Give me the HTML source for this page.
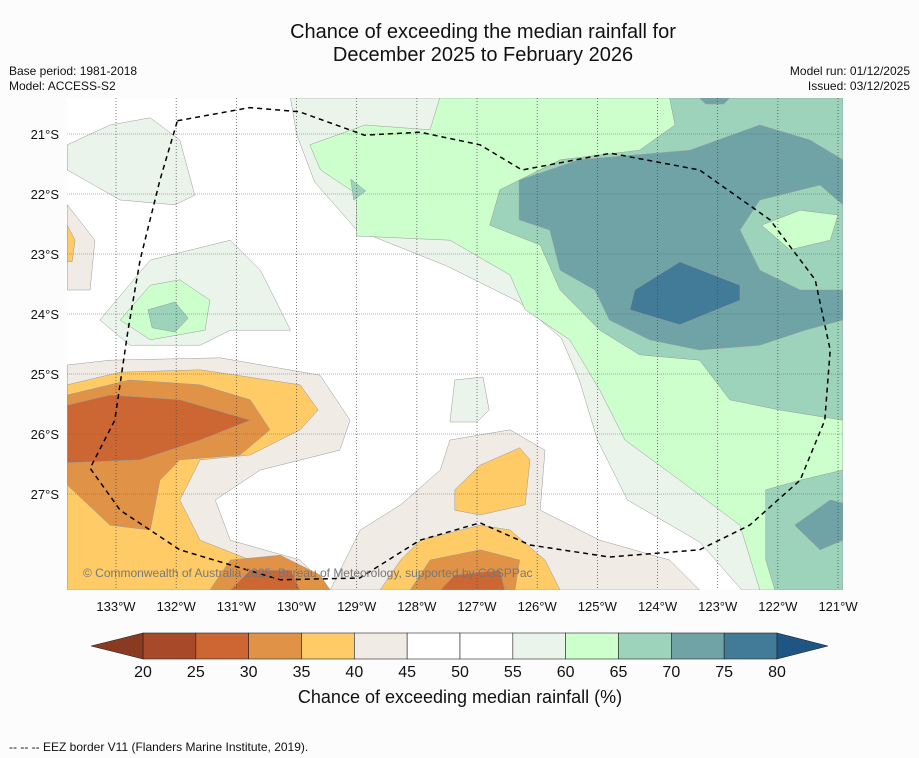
<!DOCTYPE html>
<html><head><meta charset="utf-8"><style>
body{margin:0;background:#fcfcfc;font-family:"Liberation Sans",sans-serif;}
svg{display:block}
</style></head><body>
<svg id="chart" width="919" height="758" viewBox="0 0 919 758">
<rect width="919" height="758" fill="#fcfcfc"/>
<text x="483" y="38" font-size="20" text-anchor="middle" fill="#111">Chance of exceeding the median rainfall for</text>
<text x="483" y="61" font-size="20" text-anchor="middle" fill="#111">December 2025 to February 2026</text>
<text x="9" y="75" font-size="12" fill="#111">Base period: 1981-2018</text>
<text x="9" y="90" font-size="12" fill="#111">Model: ACCESS-S2</text>
<text x="910" y="75" font-size="12" text-anchor="end" fill="#111">Model run: 01/12/2025</text>
<text x="910" y="90" font-size="12" text-anchor="end" fill="#111">Issued: 03/12/2025</text>
<defs><clipPath id="mapclip"><rect x="67" y="98" width="776" height="492"/></clipPath></defs>
<g id="map" clip-path="url(#mapclip)"><rect x="67" y="98" width="776" height="492" fill="#ffffff"/></g>
<g id="grid"></g>
<g id="eez"></g>
<g id="axes"></g>
<text x="83" y="577" font-size="12" fill="#777">© Commonwealth of Australia 2025, Bureau of Meteorology, supported by COSPPac</text>
<g id="cbar"></g>
<text x="460" y="703" font-size="18" text-anchor="middle" fill="#111">Chance of exceeding median rainfall (%)</text>
<text x="9" y="751" font-size="12" fill="#111">--  --  -- EEZ border V11 (Flanders Marine Institute, 2019).</text>
</svg>
<script>
const lonTicks=[133,132,131,130,129,128,127,126,125,124,123,122,121];
const latTicks=[21,22,23,24,25,26,27];
const levels=[20,25,30,35,40,45,50,55,60,65,70,75,80];
const levelColors=["#a84a2a","#cc6633","#e09346","#fecb66","#f0ebe5","#ffffff","#ffffff","#eaf4ea","#ccffcc","#9dd2bb","#6fa3a6","#427b98"];
const underColor="#8b3a22", overColor="#1f5585";
// contour regions: [category-level index, [[lonW, latS],...]]
const regions=[
[7,[[130.1,20.4],[120.92,20.4],[120.92,28.6],[122.6,28.6],[123.3,27.8],[124.5,27.1],[125,26.1],[125.3,25.1],[125.6,24.4],[126.3,23.8],[127.5,23.2],[129,22.6],[129.7,21.8],[130.0,21.0]]],
[7,[[127.37,25.1],[126.9,25.05],[126.8,25.6],[127.0,25.8],[127.45,25.8]]],
[7,[[133.81,21.18],[133.1,20.85],[132.43,20.73],[131.94,21.1],[131.69,22.02],[132.02,22.18],[132.93,22.1],[133.81,21.6]]],
[7,[[133.27,24.1],[132.43,23.1],[131.1,22.77],[130.6,23.27],[130.1,24.27],[131.1,24.27],[131.6,24.52],[132.77,24.52]]],
[8,[[127.62,20.4],[127.78,20.93],[128.86,20.85],[129.78,21.18],[129.6,21.6],[129.0,22.0],[129.0,22.7],[127.45,22.77],[126.45,23.35],[126.2,23.93],[125.46,24.43],[124.96,25.27],[124.54,26.1],[123.63,26.77],[122.63,27.52],[122.3,28.6],[120.92,28.6],[120.92,20.4]]],
[8,[[132.93,24.1],[132.43,23.52],[131.94,23.43],[131.44,23.77],[131.52,24.27],[132.43,24.43]]],
[9,[[123.8,20.4],[123.71,20.85],[124.3,21.27],[125.62,21.43],[126.62,21.93],[126.79,22.52],[125.95,22.85],[125.62,23.6],[124.96,24.27],[124.3,24.68],[123.3,24.77],[122.8,25.43],[121.97,25.6],[120.92,25.77],[120.92,20.4]]],
[9,[[122.2,26.93],[121.63,26.77],[120.92,26.6],[120.92,28.6],[122.05,28.6],[122.2,28.1]]],
[9,[[132.47,23.93],[132.02,23.8],[131.8,24.07],[132.02,24.3],[132.4,24.23]]],
[9,[[129.1,21.75],[128.85,21.95],[129.05,22.1]]],
[10,[[126.3,21.77],[125.3,21.43],[123.46,21.27],[122.3,20.85],[121.47,21.1],[120.92,21.43],[120.92,22.18],[121.3,21.85],[122.3,22.1],[122.63,22.6],[122.3,23.27],[121.63,23.6],[120.92,23.6],[120.92,24.1],[121.55,24.27],[122.3,24.52],[123.3,24.6],[124.13,24.43],[124.8,24.1],[125.04,23.6],[125.62,23.27],[125.79,22.6],[126.3,22.43]]],
[10,[[123.3,20.4],[122.8,20.4],[122.9,20.5],[123.2,20.5]]],
[8,[[122.27,22.52],[121.63,22.27],[121.0,22.35],[121.13,22.77],[121.8,22.93]]],
[10,[[121.72,27.52],[121.13,27.1],[120.92,27.15],[120.92,27.77],[121.3,27.93]]],
[11,[[124.38,23.6],[123.63,23.13],[122.63,23.52],[122.63,23.77],[123.63,24.18],[124.46,23.93]]],
[4,[[133.81,24.85],[133.1,24.77],[131.27,24.73],[129.61,25.02],[129.11,25.77],[129.28,26.27],[130.6,26.6],[131.35,27.1],[131.1,27.77],[129.94,28.1],[129.44,28.6],[133.81,28.6]]],
[4,[[129.44,28.6],[128.94,27.6],[128.27,27.18],[127.61,26.6],[127.45,26.1],[126.45,25.93],[125.87,26.27],[125.95,27.27],[124.96,27.77],[123.8,28.1],[123.3,28.6]]],
[4,[[133.81,22.18],[133.35,22.77],[133.43,23.6],[133.81,23.6]]],
[3,[[133.81,22.52],[133.68,22.77],[133.73,23.13],[133.81,23.13]]],
[3,[[133.81,25.18],[132.93,24.97],[131.6,24.93],[129.94,25.18],[129.64,25.6],[129.94,25.93],[130.77,26.35],[131.6,26.43],[131.94,27.1],[131.6,27.77],[130.77,28.1],[129.94,28.43],[129.78,28.6],[133.81,28.6]]],
[2,[[133.81,25.35],[132.77,25.1],[131.6,25.18],[130.77,25.43],[130.44,25.93],[130.94,26.35],[131.94,26.43],[132.27,26.77],[132.43,27.6],[133.1,27.52],[133.81,26.85]]],
[1,[[133.81,25.52],[133.1,25.35],[131.94,25.43],[130.77,25.77],[131.6,26.1],[132.6,26.43],[133.81,26.48]]],
[2,[[131.44,28.6],[131.1,28.1],[130.27,28.02],[129.61,28.35],[129.44,28.6]]],
[1,[[131.1,28.6],[130.77,28.27],[130.1,28.27],[129.94,28.6]]],
[3,[[127.37,26.93],[126.95,26.52],[126.29,26.23],[126.12,26.43],[126.2,27.18],[126.95,27.35],[127.37,27.27]]],
[3,[[128.61,28.6],[128.27,28.1],[127.94,27.77],[126.95,27.52],[126.45,27.6],[125.87,28.1],[125.62,28.6]]],
[2,[[128.11,28.6],[127.78,28.1],[126.95,27.93],[126.29,28.1],[126.37,28.6]]],
[1,[[127.61,28.6],[127.37,28.35],[126.62,28.27],[126.54,28.6]]]
];
const eezPath=[[131.98,20.78],[130.78,20.56],[129.95,20.63],[128.87,21.02],[127.95,20.97],[126.95,21.18],[126.25,21.6],[124.78,21.32],[123.3,21.6],[122.13,22.43],[121.38,23.43],[121.13,24.6],[121.22,25.77],[121.63,26.77],[122.47,27.52],[123.3,27.93],[124.8,28.05],[126.12,27.85],[126.95,27.48],[127.95,27.77],[128.95,28.4],[130.27,28.43],[131.94,27.93],[132.93,27.27],[133.43,26.57],[133.02,25.77],[132.8,24.27],[132.6,23.1],[132.27,21.77],[131.98,20.78]];
const NS="http://www.w3.org/2000/svg";
const X=lon=>116+(133-lon)*60.17;
const Y=lat=>134+(lat-21)*60;
const map=document.getElementById('map');
regions.forEach(r=>{
 const p=document.createElementNS(NS,'polygon');
 p.setAttribute('points',r[1].map(q=>X(q[0]).toFixed(1)+','+Y(q[1]).toFixed(1)).join(' '));
 p.setAttribute('fill',levelColors[r[0]]);
 p.setAttribute('stroke','#9a9a9a');p.setAttribute('stroke-width','0.5');
 
 
 map.appendChild(p);
});
const grid=document.getElementById('grid'), axes=document.getElementById('axes');
lonTicks.forEach(l=>{
 const ln=document.createElementNS(NS,'line');
 ln.setAttribute('x1',X(l));ln.setAttribute('x2',X(l));ln.setAttribute('y1',98);ln.setAttribute('y2',590);
 ln.setAttribute('stroke','#444');ln.setAttribute('stroke-width','0.7');ln.setAttribute('stroke-dasharray','1,2');
 
 
 grid.appendChild(ln);
 const t=document.createElementNS(NS,'text');
 t.setAttribute('x',X(l));t.setAttribute('y',611);t.setAttribute('font-size','13');t.setAttribute('text-anchor','middle');t.setAttribute('fill','#111');
 t.textContent=l+'°W';
 
 
 axes.appendChild(t);
});
latTicks.forEach(l=>{
 const ln=document.createElementNS(NS,'line');
 ln.setAttribute('y1',Y(l));ln.setAttribute('y2',Y(l));ln.setAttribute('x1',67);ln.setAttribute('x2',843);
 ln.setAttribute('stroke','#666');ln.setAttribute('stroke-width','0.6');ln.setAttribute('stroke-dasharray','1,1');
 
 
 grid.appendChild(ln);
 const t=document.createElementNS(NS,'text');
 t.setAttribute('x',59);t.setAttribute('y',Y(l)+5);t.setAttribute('font-size','13');t.setAttribute('text-anchor','end');t.setAttribute('fill','#111');
 t.textContent=l+'°S';
 
 
 axes.appendChild(t);
});
const eez=document.createElementNS(NS,'polyline');
eez.setAttribute('points',eezPath.map(q=>X(q[0]).toFixed(1)+','+Y(q[1]).toFixed(1)).join(' '));
eez.setAttribute('fill','none');eez.setAttribute('stroke','#000');eez.setAttribute('stroke-width','1.5');eez.setAttribute('stroke-dasharray','5,4');


document.getElementById('eez').appendChild(eez);
// colorbar
const cb=document.getElementById('cbar');
const CX=v=>143+(v-20)*(634/60), cy0=633, cy1=659;
for(let i=0;i<levelColors.length;i++){
 const r=document.createElementNS(NS,'rect');
 r.setAttribute('x',CX(levels[i]));r.setAttribute('y',cy0);r.setAttribute('width',CX(levels[i+1])-CX(levels[i]));r.setAttribute('height',cy1-cy0);
 r.setAttribute('fill',levelColors[i]);r.setAttribute('stroke','#222');r.setAttribute('stroke-width','0.6');
 
 
 cb.appendChild(r);
}
const lo=document.createElementNS(NS,'polygon');
lo.setAttribute('points',`${CX(20)},${cy0} ${CX(20)-52},${(cy0+cy1)/2} ${CX(20)},${cy1}`);
lo.setAttribute('fill',underColor);lo.setAttribute('stroke','#222');lo.setAttribute('stroke-width','0.6');


cb.appendChild(lo);
const hi=document.createElementNS(NS,'polygon');
hi.setAttribute('points',`${CX(80)},${cy0} ${CX(80)+51},${(cy0+cy1)/2} ${CX(80)},${cy1}`);
hi.setAttribute('fill',overColor);hi.setAttribute('stroke','#222');hi.setAttribute('stroke-width','0.6');


cb.appendChild(hi);
levels.forEach(v=>{
 const t=document.createElementNS(NS,'text');
 t.setAttribute('x',CX(v));t.setAttribute('y',677);t.setAttribute('font-size','16');t.setAttribute('text-anchor','middle');t.setAttribute('fill','#111');
 t.textContent=v;
 
 
 cb.appendChild(t);
});
</script>
</body></html>
